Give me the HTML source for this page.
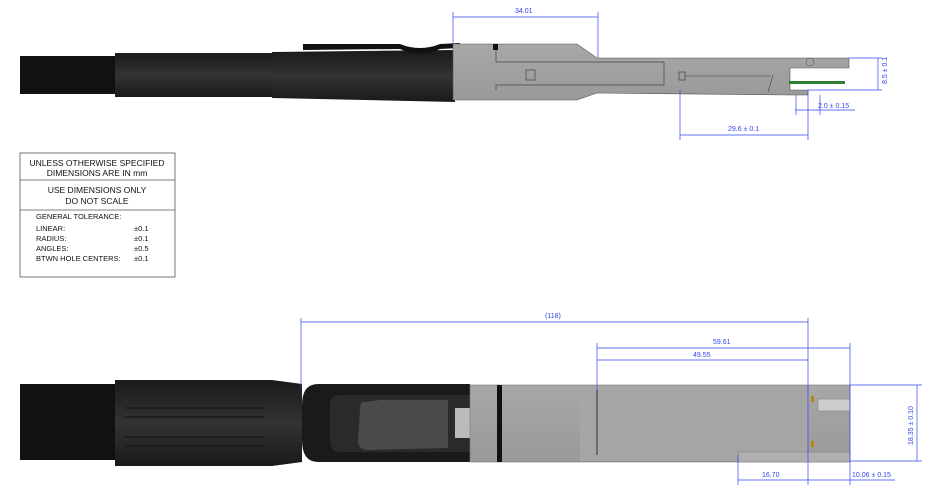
<!DOCTYPE html>
<html><head><meta charset="utf-8"><style>
body{margin:0;background:#fff;width:945px;height:502px;overflow:hidden}
svg{display:block}
text{font-family:"Liberation Sans",sans-serif}
</style></head><body>
<svg width="945" height="502" viewBox="0 0 945 502">
<defs>
<linearGradient id="blk" x1="0" y1="0" x2="0" y2="1"><stop offset="0" stop-color="#1a1a1a"/><stop offset="0.5" stop-color="#333"/><stop offset="1" stop-color="#1a1a1a"/></linearGradient>
<linearGradient id="met" x1="0" y1="0" x2="0" y2="1"><stop offset="0" stop-color="#a8a8a8"/><stop offset="1" stop-color="#999"/></linearGradient>
</defs>
<!-- TOP VIEW -->
<rect x="20" y="56" width="96" height="38" fill="#111"/>
<rect x="115" y="53" width="158" height="44" fill="url(#blk)"/>
<path d="M272 52 L455 50 L455 102 L272 98 Z" fill="url(#blk)"/>
<path d="M303 44 L400 44 Q420 52 440 44 L460 43 L460 48 L440 49 Q420 58 400 49 L303 50 Z" fill="#111"/>
<path d="M453 44 L577 44 L597 58 L849 58 L849 68 L790 68 L790 90 L808 90 L808 95 L790 95 L597 93 L577 100 L453 100 Z" fill="url(#met)" stroke="#555" stroke-width="0.6"/>
<rect x="493" y="44" width="5" height="6" fill="#111"/>
<path d="M496 50 V62 L664 62 L664 85 L496 85 L496 90" fill="none" stroke="#444" stroke-width="0.7"/>
<rect x="526" y="70" width="9" height="10" fill="none" stroke="#444" stroke-width="0.7"/>
<rect x="679" y="72" width="6" height="8" fill="none" stroke="#444" stroke-width="0.7"/>
<line x1="685" y1="76" x2="770" y2="76" stroke="#444" stroke-width="0.6"/>
<line x1="773" y1="75" x2="768" y2="92" stroke="#444" stroke-width="0.6"/>
<rect x="789" y="81" width="56" height="3" fill="#2e7d32"/>
<circle cx="810" cy="62" r="4" fill="none" stroke="#555" stroke-width="0.6"/>
<!-- top dims -->
<g stroke="#3344ee" stroke-width="0.7" fill="none">
<line x1="453" y1="12" x2="453" y2="44"/><line x1="598" y1="12" x2="598" y2="58"/><line x1="453" y1="17" x2="598" y2="17"/>
<line x1="849" y1="58" x2="882" y2="58"/><line x1="808" y1="90" x2="882" y2="90"/><line x1="878" y1="58" x2="878" y2="90"/>
<line x1="680" y1="90" x2="680" y2="140"/><line x1="808" y1="90" x2="808" y2="140"/><line x1="680" y1="135" x2="808" y2="135"/>
<line x1="796" y1="95" x2="796" y2="115"/><line x1="795" y1="110" x2="855" y2="110"/><line x1="820" y1="95" x2="820" y2="115"/>
</g>
<g fill="#3344ee" font-size="7">
<text x="515" y="13">34.01</text>
<text x="728" y="131">29.6 ± 0.1</text>
<text x="818" y="108">2.0 ± 0.15</text>
<text transform="translate(887,84) rotate(-90)">8.5 ± 0.1</text>
</g>
<!-- TABLE -->
<g stroke="#555" stroke-width="0.8" fill="none">
<rect x="20" y="153" width="155" height="124"/>
<line x1="20" y1="180" x2="175" y2="180"/><line x1="20" y1="210" x2="175" y2="210"/>
</g>
<g font-size="8.5" fill="#111" text-anchor="middle">
<text x="97" y="166">UNLESS OTHERWISE SPECIFIED</text>
<text x="97" y="176">DIMENSIONS ARE IN mm</text>
<text x="97" y="193">USE DIMENSIONS ONLY</text>
<text x="97" y="204">DO NOT SCALE</text>
</g>
<g font-size="7.5" fill="#111">
<text x="36" y="219">GENERAL TOLERANCE:</text>
<text x="36" y="231">LINEAR:</text><text x="134" y="231">±0.1</text>
<text x="36" y="241">RADIUS:</text><text x="134" y="241">±0.1</text>
<text x="36" y="251">ANGLES:</text><text x="134" y="251">±0.5</text>
<text x="36" y="261">BTWN HOLE CENTERS:</text><text x="134" y="261">±0.1</text>
</g>
<!-- BOTTOM VIEW -->
<rect x="20" y="384" width="96" height="76" fill="#111"/>
<rect x="115" y="380" width="158" height="86" fill="url(#blk)"/>
<path d="M272 380 L302 384 L302 462 L272 466 Z" fill="url(#blk)"/>
<g stroke="#111" stroke-width="1"><line x1="125" y1="408" x2="265" y2="408"/><line x1="125" y1="417" x2="265" y2="417"/><line x1="125" y1="437" x2="265" y2="437"/><line x1="125" y1="446" x2="265" y2="446"/></g>
<path d="M318 384 L470 384 L470 462 L318 462 Q302 462 302 440 L302 405 Q302 384 318 384 Z" fill="#1a1a1a"/>
<path d="M340 395 L470 395 L470 452 L340 452 Q330 452 330 440 L330 405 Q330 395 340 395Z" fill="#2a2a2a"/>
<path d="M365 402 Q360 400 360 410 L358 440 Q358 450 368 450 L448 448 L448 400 L380 400 Z" fill="#4a4a4a"/>
<rect x="455" y="408" width="15" height="30" fill="#bbb"/>
<rect x="470" y="385" width="380" height="77" fill="url(#met)" stroke="#777" stroke-width="0.6"/>
<rect x="497" y="385" width="5" height="77" fill="#111"/>
<rect x="580" y="386" width="228" height="75" fill="#a6a6a6"/>
<line x1="597" y1="390" x2="597" y2="455" stroke="#333"/>
<rect x="818" y="399" width="32" height="12" fill="#ccc" stroke="#777" stroke-width="0.5"/>
<rect x="738" y="452" width="112" height="10" fill="#b0b0b0" stroke="#777" stroke-width="0.5"/>
<rect x="811" y="396" width="3" height="6" fill="#b8860b"/><rect x="811" y="441" width="3" height="6" fill="#b8860b"/>
<!-- bottom dims -->
<g stroke="#3344ee" stroke-width="0.7" fill="none">
<line x1="301" y1="318" x2="301" y2="390"/><line x1="808" y1="318" x2="808" y2="485"/><line x1="301" y1="322" x2="808" y2="322"/>
<line x1="597" y1="343" x2="597" y2="390"/><line x1="850" y1="343" x2="850" y2="485"/>
<line x1="597" y1="348" x2="850" y2="348"/><line x1="597" y1="360" x2="808" y2="360"/>
<line x1="850" y1="385" x2="922" y2="385"/><line x1="850" y1="461" x2="922" y2="461"/><line x1="917" y1="385" x2="917" y2="461"/>
<line x1="738" y1="455" x2="738" y2="485"/><line x1="738" y1="480" x2="895" y2="480"/>
</g>
<g fill="#3344ee" font-size="7">
<text x="545" y="318">(118)</text>
<text x="713" y="344">59.61</text>
<text x="693" y="357">49.55</text>
<text x="762" y="477">16.70</text>
<text x="852" y="477">10.06 ± 0.15</text>
<text transform="translate(913,445) rotate(-90)">18.35 ± 0.10</text>
</g>
</svg>
</body></html>
